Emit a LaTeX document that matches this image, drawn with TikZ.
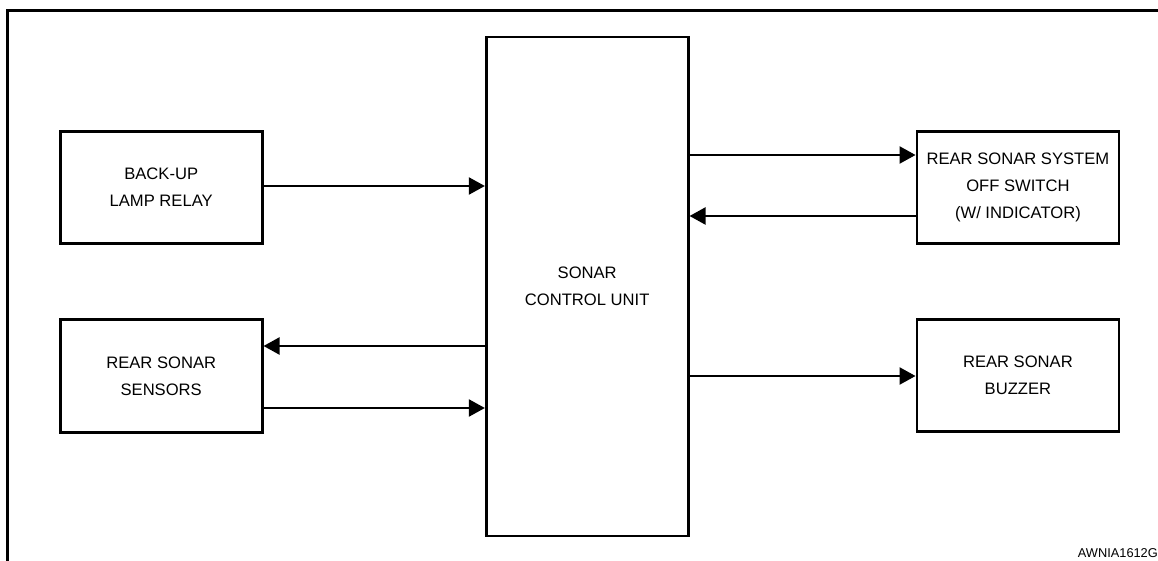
\documentclass[tikz,border=0pt]{standalone}
\usepackage{fontspec}
\setmainfont{Liberation Sans}
\usetikzlibrary{arrows.meta}
\begin{document}
\begin{tikzpicture}[x=1pt,y=-1pt,
  blk/.style={draw=black,line width=2.7pt,minimum width=202pt,align=center,
    font=\fontsize{16.6}{27}\selectfont,inner sep=0pt},
  conn/.style={line width=2.3pt,-{Triangle[length=16pt,width=17pt]}}]
\useasboundingbox (0,0) rectangle (1158,561);
% frame
\draw[line width=3.4pt] (7.7,561) -- (7.7,10.5) -- (1160,10.5);
% blocks
\node[blk,minimum height=112pt] (relay) at (161.2,187.2) {BACK-UP\\LAMP RELAY};
\node[blk,minimum height=113pt] (sensors) at (161.2,375.8) {REAR SONAR\\SENSORS};
\node[blk,minimum height=499pt] (scu) at (587.2,286.4) {SONAR\\CONTROL UNIT};
\node[blk,minimum height=112pt] (offsw) at (1017.9,187.2) {REAR SONAR SYSTEM\\OFF SWITCH\\(W/ INDICATOR)};
\node[blk,minimum height=112pt] (buzzer) at (1017.9,375.5) {REAR SONAR\\BUZZER};
% connectors
\draw[conn] (relay.east |- 0,186) -- (scu.west |- 0,186);
\draw[conn] (scu.west |- 0,346) -- (sensors.east |- 0,346);
\draw[conn] (sensors.east |- 0,408) -- (scu.west |- 0,408);
\draw[conn] (scu.east |- 0,155) -- (offsw.west |- 0,155);
\draw[conn] (offsw.west |- 0,216) -- (scu.east |- 0,216);
\draw[conn] (scu.east |- 0,376) -- (buzzer.west |- 0,376);
% figure id
\node[anchor=base east,font=\fontsize{12.8}{14}\selectfont,inner sep=0pt] (fid) at (1158,557) {AWNIA1612G};
\end{tikzpicture}
\end{document}
